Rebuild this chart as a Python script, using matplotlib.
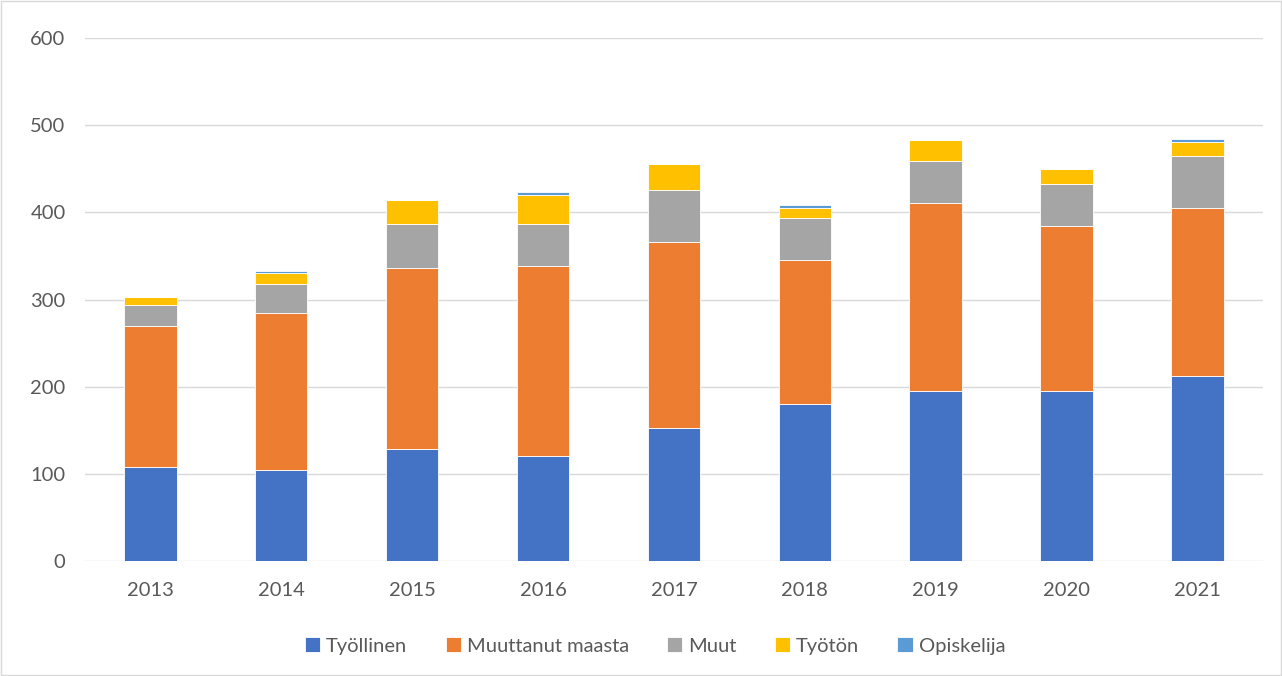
import matplotlib
matplotlib.use("Agg")
import matplotlib.pyplot as plt
from matplotlib.patches import Rectangle
import numpy as np

years = ["2013", "2014", "2015", "2016", "2017", "2018", "2019", "2020", "2021"]
tyollinen = [108, 105, 128, 120, 153, 180, 195, 195, 212]
muuttanut = [162, 180, 208, 219, 213, 165, 216, 189, 193]
muut = [24, 33, 51, 48, 60, 48, 48, 48, 60]
tyoton = [9, 12, 27, 33, 30, 12, 24, 18, 16]
opiskelija = [0, 3, 0, 3, 0, 3, 0, 0, 3]

series = [
    ("Työllinen", tyollinen, "#4472C4"),
    ("Muuttanut maasta", muuttanut, "#ED7D31"),
    ("Muut", muut, "#A5A5A5"),
    ("Työtön", tyoton, "#FFC000"),
    ("Opiskelija", opiskelija, "#5B9BD5"),
]

plt.rcParams['font.family'] = ['Lato', 'DejaVu Sans']

fig = plt.figure(figsize=(12.82, 6.76), dpi=100)
ax = fig.add_axes([0.0663, 0.170, 0.9187, 0.7738])

x = np.arange(len(years))
bottom = np.zeros(len(years))
for name, vals, color in series:
    vals = np.array(vals, dtype=float)
    ax.bar(x, vals, width=0.4, bottom=bottom, color=color, label=name,
           edgecolor="white", linewidth=0.6, zorder=3)
    bottom += vals

ax.set_xlim(-0.5, len(years) - 0.5)
ax.set_ylim(0, 600)
ax.set_yticks(range(0, 601, 100))
ax.set_xticks(x)
ax.set_xticklabels(years)
ax.grid(axis="y", color="#D9D9D9", linewidth=1, zorder=0)
for s in ax.spines.values():
    s.set_visible(False)
ax.tick_params(axis="both", length=0, labelsize=14.5, labelcolor="#595959")
ax.tick_params(axis="x", pad=15)
ax.tick_params(axis="y", pad=14)

leg = fig.legend(loc="upper center", bbox_to_anchor=(655 / 1282, 1 - 619 / 676), ncol=5,
                 frameon=False, fontsize=14.5, handlelength=0.75, handleheight=0.75,
                 handletextpad=0.3, columnspacing=1.9)
for t in leg.get_texts():
    t.set_color("#595959")

fig.patches.append(Rectangle((0.001, 0.001), 0.998, 0.998, transform=fig.transFigure,
                             fill=False, edgecolor="#D9D9D9", linewidth=1))

fig.savefig("out.png", dpi=100)
